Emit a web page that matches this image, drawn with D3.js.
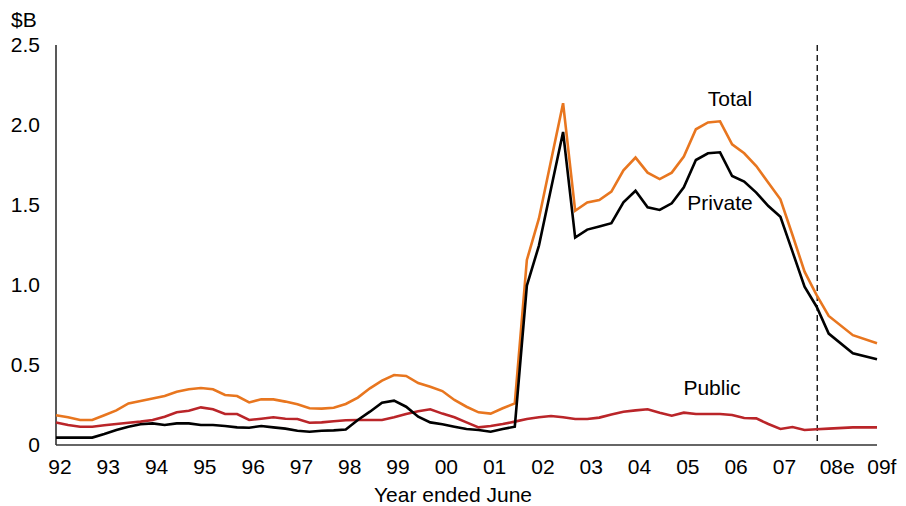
<!DOCTYPE html>
<html><head><meta charset="utf-8">
<script src="https://cdn.jsdelivr.net/npm/d3@7"></script>
<style>
body{margin:0;background:#fff;}
svg text{font-family:"Liberation Sans",Arial,sans-serif;fill:#000;}
</style></head>
<body><svg id="c" width="906" height="506"></svg>
<script>
// quarter index (x positions of data points); last three are 08e/09f estimates
const periods = [0,1,2,3,4,5,6,7,8,9,10,11,12,13,14,15,16,17,18,19,20,21,22,23,24,25,26,27,28,29,30,31,32,33,34,35,36,37,38,39,40,41,42,43,44,45,46,47,48,49,50,51,52,53,54,55,56,57,58,59,60,61,62,63,64,66,68];
const total = [0.18,0.167,0.15,0.15,0.18,0.21,0.254,0.269,0.285,0.30,0.327,0.342,0.35,0.342,0.306,0.30,0.26,0.279,0.279,0.265,0.248,0.223,0.221,0.227,0.25,0.29,0.348,0.396,0.431,0.425,0.381,0.358,0.331,0.275,0.233,0.198,0.19,0.223,0.254,1.15,1.41,1.77,2.13,1.458,1.51,1.525,1.577,1.71,1.79,1.696,1.656,1.696,1.796,1.967,2.01,2.017,1.873,1.817,1.7375,1.633,1.529,1.306,1.077,0.93,0.80,0.68,0.63];
const privateS = [0.04,0.04,0.04,0.04,0.0625,0.0875,0.108,0.123,0.129,0.119,0.129,0.129,0.119,0.119,0.1125,0.104,0.102,0.1125,0.104,0.096,0.083,0.077,0.083,0.085,0.090,0.15,0.202,0.258,0.271,0.233,0.171,0.135,0.123,0.108,0.094,0.0875,0.077,0.094,0.108,0.99,1.24,1.595,1.95,1.29,1.34,1.36,1.38,1.51,1.583,1.479,1.4625,1.504,1.604,1.775,1.817,1.823,1.675,1.64,1.571,1.4875,1.42,1.202,0.983,0.858,0.69,0.567,0.53];
const publicS = [0.135,0.119,0.108,0.108,0.117,0.125,0.133,0.14,0.15,0.171,0.198,0.208,0.229,0.217,0.1875,0.1875,0.15,0.158,0.167,0.158,0.156,0.133,0.135,0.142,0.148,0.15,0.15,0.15,0.167,0.1875,0.205,0.217,0.19,0.167,0.135,0.104,0.1125,0.125,0.14,0.156,0.167,0.175,0.167,0.156,0.156,0.165,0.185,0.202,0.21,0.217,0.196,0.177,0.196,0.1875,0.1875,0.1875,0.181,0.1625,0.16,0.125,0.094,0.106,0.0875,0.092,0.096,0.104,0.104];
const xTickLabels = ["92","93","94","95","96","97","98","99","00","01","02","03","04","05","06","07","08e","09f"];
const xTickPos = [0.33,4.33,8.33,12.33,16.33,20.33,24.33,28.33,32.33,36.33,40.33,44.33,48.33,52.33,56.33,60.33,64.7,68.4];
const yTicks = [0,0.5,1.0,1.5,2.0,2.5];
const yTickLabels = ["0","0.5","1.0","1.5","2.0","2.5"];
const forecastStart = 63.05;
const seriesNames = ["Total","Private","Public"];

const FS = 21;
const svg = d3.select("#c");
const x = d3.scaleLinear().domain([0,68]).range([56,877]);
const y = d3.scaleLinear().domain([0,2.5]).range([444,44]);

// axes lines
svg.append("line").attr("x1",56).attr("x2",56).attr("y1",y(2.5)+1).attr("y2",445)
  .attr("stroke","#222").attr("stroke-width",1.5);
svg.append("line").attr("x1",56).attr("x2",x(68)).attr("y1",445).attr("y2",445)
  .attr("stroke","#333").attr("stroke-width",1.5);

// y tick labels
svg.selectAll(".yl").data(yTicks).enter().append("text")
  .attr("x",40).attr("y",d=>y(d)).attr("dy","0.36em")
  .attr("text-anchor","end").attr("font-size",FS)
  .text((d,i)=>yTickLabels[i]);
svg.append("text").attr("x",11).attr("y",27).attr("font-size",FS).text("$B");

// x tick labels
svg.selectAll(".xl").data(xTickLabels).enter().append("text")
  .attr("x",(d,i)=>x(xTickPos[i])).attr("y",474)
  .attr("text-anchor","middle").attr("font-size",FS).text(d=>d);
svg.append("text").attr("x",453).attr("y",502).attr("text-anchor","middle")
  .attr("font-size",FS).text("Year ended June");

// forecast divider
svg.append("line").attr("x1",x(forecastStart)).attr("x2",x(forecastStart))
  .attr("y1",45).attr("y2",445).attr("stroke","#000").attr("stroke-width",1.3)
  .attr("stroke-dasharray","6,4");

const line = d3.line().x((d,i)=>x(periods[i])).y(d=>y(d));
const draw = (data,color)=>svg.append("path").datum(data).attr("d",line)
  .attr("fill","none").attr("stroke",color).attr("stroke-width",2.6)
  .attr("stroke-linejoin","miter");
draw(publicS,"#BA2529");
draw(total,"#E8761F");
draw(privateS,"#000000");

// series labels
svg.append("text").attr("x",730).attr("y",98).attr("dy","0.36em").attr("text-anchor","middle").attr("font-size",FS).text(seriesNames[0]);
svg.append("text").attr("x",720).attr("y",202).attr("dy","0.36em").attr("text-anchor","middle").attr("font-size",FS).text(seriesNames[1]);
svg.append("text").attr("x",712).attr("y",387).attr("dy","0.36em").attr("text-anchor","middle").attr("font-size",FS).text(seriesNames[2]);
</script></body></html>
